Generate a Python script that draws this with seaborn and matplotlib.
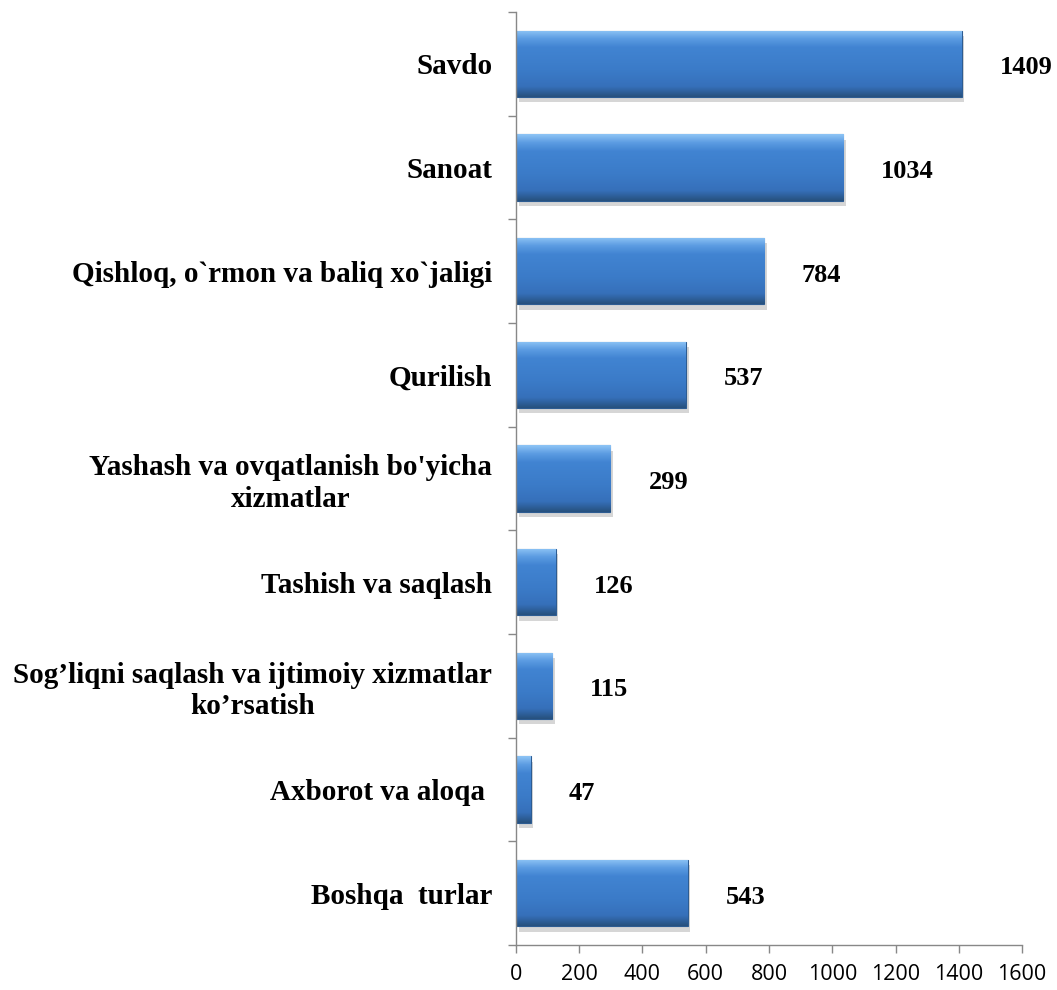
import matplotlib
matplotlib.use("Agg")
import matplotlib.pyplot as plt
import matplotlib.patheffects as pe
import numpy as np
import pandas as pd
import seaborn as sns
from matplotlib.colors import LinearSegmentedColormap

categories = ["Savdo", "Sanoat", "Qishloq, o`rmon va baliq xo`jaligi", "Qurilish",
              "Yashash va ovqatlanish bo'yicha\nxizmatlar", "Tashish va saqlash",
              "Sog\u2019liqni saqlash va ijtimoiy xizmatlar\nko\u2019rsatish",
              "Axborot va aloqa ", "Boshqa  turlar"]
values = [1409, 1034, 784, 537, 299, 126, 115, 47, 543]
xticks = [0, 200, 400, 600, 800, 1000, 1200, 1400, 1600]

df = pd.DataFrame({"tur": categories, "soni": values})

sns.set_style("white")
plt.rcParams["text.color"] = "black"
plt.rcParams["xtick.color"] = "#888888"
plt.rcParams["xtick.labelcolor"] = "black"
plt.rcParams["ytick.labelcolor"] = "black"

fig = plt.figure(figsize=(10.57, 9.9), dpi=100)
ax = fig.add_axes([0.488, 0.0455, 0.479, 0.9425])

sns.barplot(data=df, x="soni", y="tur", orient="h", color="#3d7cc9",
            width=0.64, saturation=1, ax=ax)

# bevel-like gradient on each bar: light top edge, flat middle, dark bottom edge
cmap = LinearSegmentedColormap.from_list(
    "bev", [(0, "#8cc3f5"), (0.12, "#5c9ce2"), (0.25, "#4184d2"), (0.6, "#3b7bc8"),
            (0.85, "#3670ba"), (1, "#27517f")])
grad = np.linspace(0, 1, 64).reshape(-1, 1)
for p in ax.patches:
    x0, y0 = p.get_x(), p.get_y()
    w, h = p.get_width(), p.get_height()
    p.set_edgecolor("#2d5c92")
    p.set_linewidth(0.8)
    p.set_path_effects([pe.SimplePatchShadow(offset=(2, -4), shadow_rgbFace="#999999", alpha=0.4),
                        pe.Normal()])
    im = ax.imshow(grad, cmap=cmap, aspect="auto", extent=(x0, x0 + w, y0 + h, y0),
                   zorder=p.get_zorder() + 0.1, interpolation="bicubic")
    im.set_clip_path(p)
    ax.annotate(str(int(w)), xy=(x0 + w, y0 + h / 2), xytext=(38, -4),
                textcoords="offset pixels", ha="left", va="center", color="black",
                fontsize=19, fontweight="bold", family="Liberation Serif")

ax.set_xlim(0, 1600)
ax.set_ylim(len(categories) - 0.5, -0.5)
ax.set_xticks(xticks)
ax.set_xticklabels([str(t) for t in xticks], fontsize=15.5, family="Open Sans")
ax.set_yticks(np.arange(len(categories)))
ax.set_yticklabels(categories, fontsize=21, fontweight="bold", family="Liberation Serif",
                   multialignment="center")
ax.tick_params(axis="y", which="major", left=False, length=0, pad=17)
ax.tick_params(axis="x", bottom=True, length=6, color="#888888", width=1, direction="out", pad=8)
# ticks between categories on y axis
ax.set_yticks(np.arange(len(categories) + 1) - 0.5, minor=True)
ax.tick_params(axis="y", which="minor", left=True, length=6, color="#888888", width=1, direction="out")
ax.set_xlabel("")
ax.set_ylabel("")
for s in ["top", "right"]:
    ax.spines[s].set_visible(False)
for s in ["left", "bottom"]:
    ax.spines[s].set_color("#888888")
    ax.spines[s].set_linewidth(1)

fig.savefig("out.png", dpi=100)
